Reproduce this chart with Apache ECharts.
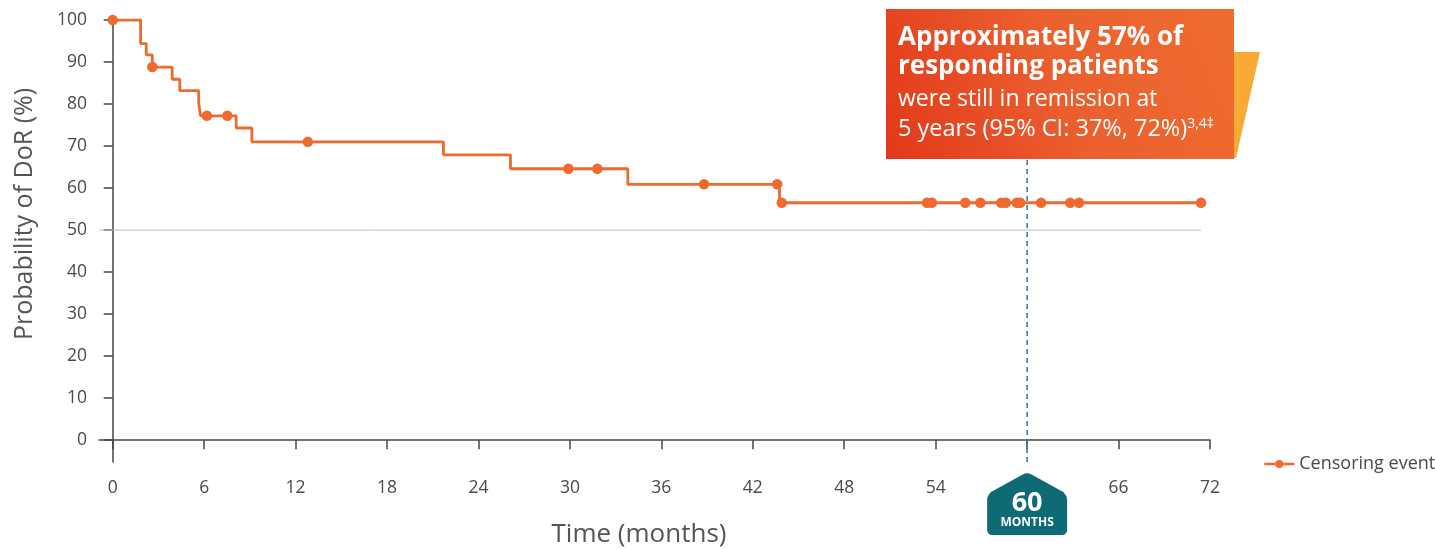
<!DOCTYPE html>
<html><head><meta charset="utf-8">
<script src="https://cdn.jsdelivr.net/npm/echarts@6/dist/echarts.min.js"></script>
<style>html,body{margin:0;padding:0;background:#fff}#c{width:1435px;height:549px}</style>
</head><body><div id="c"></div>
<script>
// ---- data ----
const xTicks = [0, 6, 12, 18, 24, 30, 36, 42, 48, 54, 60, 66, 72];
const xLabels = [0, 6, 12, 18, 24, 30, 36, 42, 48, 54, 66, 72];
const yTicks = [0, 10, 20, 30, 40, 50, 60, 70, 80, 90, 100];
const stepTimes  = [0, 1.83, 2.2, 2.6, 3.9, 4.4, 5.64, 5.77, 8.1, 9.13, 21.7, 26.1, 33.8, 43.75, 71.41];
const stepValues = [100, 94.4, 91.7, 88.8, 85.9, 83.2, 80.2, 77.2, 74.3, 71.0, 67.9, 64.6, 60.9, 56.5, 56.5];
const censorTimes = [0, 2.6, 6.18, 7.52, 12.8, 29.9, 31.8, 38.8, 43.6, 43.9, 53.43, 53.75, 55.94, 56.93,
                     58.3, 58.6, 59.32, 59.55, 60.92, 62.83, 63.41, 71.41];
const refLineValue = 50;
const refLineEnd = 71.41;
const milestone = 60;
const xMin = -0.9, xMax = 72, yMin = -5.2, yMax = 100;

// ---- helpers ----
function kmAt(t) {
  let v = stepValues[0];
  for (let i = 0; i < stepTimes.length; i++) { if (stepTimes[i] <= t) v = stepValues[i]; }
  return v;
}
const stepData = stepTimes.map((t, i) => [t, stepValues[i]]);
const censorData = censorTimes.map(t => [t, kmAt(t)]);

function roundedPoly(pts, radii) {
  const out = [];
  const n = pts.length;
  for (let i = 0; i < n; i++) {
    const p = pts[i], a = pts[(i - 1 + n) % n], b = pts[(i + 1) % n];
    const r = radii[i];
    const da = Math.hypot(a[0] - p[0], a[1] - p[1]), db = Math.hypot(b[0] - p[0], b[1] - p[1]);
    const s = [p[0] + (a[0] - p[0]) * r / da, p[1] + (a[1] - p[1]) * r / da];
    const e = [p[0] + (b[0] - p[0]) * r / db, p[1] + (b[1] - p[1]) * r / db];
    for (let k = 0; k <= 8; k++) {
      const t = k / 8;
      out.push([
        (1 - t) * (1 - t) * s[0] + 2 * (1 - t) * t * p[0] + t * t * e[0],
        (1 - t) * (1 - t) * s[1] + 2 * (1 - t) * t * p[1] + t * t * e[1]
      ]);
    }
  }
  return out;
}

const ORANGE = '#EE6A2E';
const TEAL = '#0E6B76';
const FONT = 'Open Sans';
const chart = echarts.init(document.getElementById('c'));

chart.setOption({
  animation: false,
  textStyle: { fontFamily: FONT },
  grid: { left: 99, right: 225, top: 20, bottom: 87 },
  legend: {
    data: ['Censoring event'], left: 1258, top: 450, itemWidth: 30, itemHeight: 10, itemGap: 6,
    textStyle: { fontSize: 18, color: '#4a4a4a', fontFamily: FONT },
    lineStyle: { opacity: 1, width: 2.5, color: ORANGE }
  },
  xAxis: {
    type: 'value', min: xMin, max: xMax,
    axisLine: { show: true, lineStyle: { color: '#444', width: 1.5 } },
    axisTick: { show: true, customValues: xTicks, length: 9, lineStyle: { color: '#444', width: 1.5 } },
    axisLabel: { customValues: xLabels, margin: 17, fontSize: 17.5, color: '#4a4a4a', fontFamily: FONT },
    splitLine: { show: false }
  },
  yAxis: {
    type: 'value', min: yMin, max: yMax,
    axisLine: { show: true, lineStyle: { color: '#444', width: 1.5 } },
    axisTick: { show: true, customValues: yTicks, length: 9, lineStyle: { color: '#444', width: 1.5 } },
    axisLabel: { customValues: yTicks, margin: 12, fontSize: 17.5, color: '#4a4a4a', fontFamily: FONT },
    splitLine: { show: false }
  },
  series: [
    {
      name: 'ref', type: 'line', data: [[xMin, refLineValue], [refLineEnd, refLineValue]],
      symbol: 'none', lineStyle: { color: '#bdbdbd', width: 1 }, silent: true, z: 1
    },
    {
      name: 'milestone', type: 'line', data: [[milestone, yMin], [milestone, yMax]],
      symbol: 'none', lineStyle: { color: '#1E7D8A', width: 1.5, type: [5, 4] }, silent: true, z: 1
    },
    {
      name: 'KM', type: 'line', step: 'end', data: stepData, symbol: 'none',
      lineStyle: { color: ORANGE, width: 2.8 }, z: 3
    },
    {
      name: 'Censoring event', type: 'line', data: censorData, symbol: 'circle', symbolSize: 10.5,
      showSymbol: true, itemStyle: { color: ORANGE }, lineStyle: { opacity: 0, color: ORANGE }, z: 4
    }
  ]
});

const cx = chart.convertToPixel({ xAxisIndex: 0 }, milestone);
const axisY = chart.convertToPixel({ yAxisIndex: 0 }, yMin);
const bT = axisY + 10;
const badgePts = roundedPoly(
  [[cx - 40, bT + 22], [cx, bT], [cx + 40, bT + 22], [cx + 40, bT + 63], [cx - 40, bT + 63]],
  [7, 5, 7, 6, 6]);

chart.setOption({
  graphic: [
    { type: 'text', x: 25, y: 214, rotation: Math.PI / 2, z: 10,
      style: { text: 'Probability of DoR (%)', fontSize: 25, fill: '#555', align: 'center', verticalAlign: 'middle', fontFamily: FONT } },
    { type: 'text', x: 639, y: 535, z: 10,
      style: { text: 'Time (months)', fontSize: 26, fill: '#555', align: 'center', verticalAlign: 'middle', fontFamily: FONT } },
    // callout
    { type: 'polygon', z: 50, shape: { points: [[1200, 52], [1260, 52], [1236, 158], [1200, 158]] },
      style: { fill: '#F9AA36' } },
    { type: 'rect', z: 51, shape: { x: 886, y: 9, width: 348, height: 150 },
      style: { fill: new echarts.graphic.LinearGradient(0, 1, 1, 0, [
        { offset: 0, color: '#E2381A' }, { offset: 0.5, color: '#EB5F2E' }, { offset: 1, color: '#EE6C30' }]) } },
    { type: 'text', z: 52, x: 898, y: 38,
      style: { text: 'Approximately 57% of', fontSize: 26, fontWeight: 'bold', fill: '#fff', verticalAlign: 'middle', fontFamily: FONT } },
    { type: 'text', z: 52, x: 898, y: 67,
      style: { text: 'responding patients', fontSize: 26, fontWeight: 'bold', fill: '#fff', verticalAlign: 'middle', fontFamily: FONT } },
    { type: 'text', z: 52, x: 898, y: 99,
      style: { text: 'were still in remission at', fontSize: 23, fill: '#fff', verticalAlign: 'middle', fontFamily: FONT } },
    { type: 'text', z: 52, x: 898, y: 129,
      style: { text: '{a|5 years (95% CI: 37%, 72%)}{s|3,4‡}', fill: '#fff', verticalAlign: 'middle', fontFamily: FONT,
        rich: { a: { fontSize: 23.5, fill: '#fff', fontFamily: FONT },
                s: { fontSize: 14, fill: '#fff', fontFamily: FONT, verticalAlign: 'top', lineHeight: 13 } } } },
    // badge
    { type: 'polygon', z: 20, shape: { points: badgePts }, style: { fill: TEAL } },
    { type: 'text', z: 21, x: cx, y: bT + 31,
      style: { text: '60', fontSize: 27, fontWeight: 'bold', fill: '#fff', align: 'center', verticalAlign: 'middle', fontFamily: FONT } },
    { type: 'text', z: 21, x: cx, y: bT + 51,
      style: { text: 'MONTHS', fontSize: 12, fontWeight: 'bold', fill: '#fff', align: 'center', verticalAlign: 'middle', fontFamily: FONT } }
  ]
});
</script>
</body></html>
